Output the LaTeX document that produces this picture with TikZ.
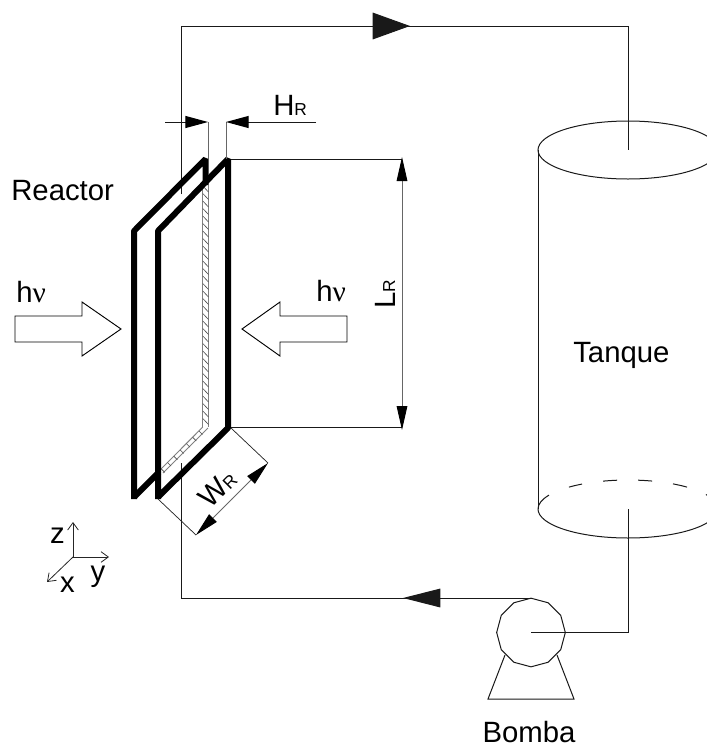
\documentclass[tikz,border=0pt]{standalone}
\usepackage{fontspec}
\setmainfont{Liberation Sans}
\newfontfamily\nufont{Liberation Serif}
\usetikzlibrary{arrows.meta,shapes.geometric}
\newcommand{\bigfs}{\fontsize{22}{24}\selectfont}
\newcommand{\smallfs}{\fontsize{13}{15}\selectfont}
\newcommand{\hnu}{h{\nufont ν}}
\tikzset{
  pipe/.style={line width=0.75pt,black!90},
  thinline/.style={line width=0.55pt,black!85},
  dimline/.style={line width=0.7pt,black!60},
  reactorframe/.style={line width=4.5pt,line join=bevel,line cap=butt},
  hatchedge/.style={line width=0.7pt,black!50},
  hatchtick/.style={line width=0.45pt,black!70},
  lab/.style={font=\bigfs,inner sep=0pt,text=black},
  bigtip/.style={-{Triangle[length=28pt,width=20pt]},pipe},
  midtip/.style={-{Triangle[length=28pt,width=14pt]},pipe},
  dimtip/.style={-{Triangle[length=18pt,width=8pt,color=black]},dimline},
  hrtip/.style={-{Triangle[length=17pt,width=9pt,color=black]},pipe},
  axisline/.style={-{Straight Barb[length=5.5pt,width=8pt]},line width=0.6pt,black!85},
  lightarrow/.style={line width=0.7pt,fill=white,line join=miter}
}
\begin{document}
\begin{tikzpicture}[x=0.75pt,y=-0.75pt]
\useasboundingbox (0,0) rectangle (707,747);
\clip (0,0) rectangle (707,747);
% coordinates
\coordinate (pipeTopStart) at (181,194);
\coordinate (pipeTopCorner) at (181,26);
\coordinate (pipeTopEnd) at (628,26);
\coordinate (tankIn) at (628,150);
\coordinate (arrowTopBase) at (371,26);
\coordinate (arrowTopTip) at (410,26);
\coordinate (tankOut) at (628,509);
\coordinate (pumpIn) at (531,632.5);
\coordinate (pumpCorner) at (628,632.5);
\coordinate (pumpTop) at (531,598);
\coordinate (pipeLowCorner) at (181,598);
\coordinate (pipeLowEnd) at (181,463);
\coordinate (arrowLowBase) at (441,598);
\coordinate (arrowLowTip) at (403,598);
% tank
\node[ellipse,draw,pipe,minimum width=135pt,minimum height=43.5pt,inner sep=0pt] (tankTop) at (628,150) {};
\draw[pipe] (538,150) -- (538,509);
\draw[pipe] (538,509) arc[start angle=180,end angle=0,x radius=90,y radius=29];
\foreach \ta/\tb in {0/28.6,49/59.3,73.9/83,96.4/105.5,120/131,150/160}{
  \draw[pipe] (628,509) ++({180+\ta}:90 and 29) arc[start angle={180+\ta},end angle={180+\tb},x radius=90,y radius=29];
}
% pipes
\draw[pipe] (pipeTopStart) -- (pipeTopCorner) -- (pipeTopEnd) -- (tankIn);
\draw[bigtip] (arrowTopBase) -- (arrowTopTip);
\draw[pipe] (tankOut) -- (pumpCorner) -- (pumpIn);
\draw[pipe] (pumpTop) -- (pipeLowCorner) -- (pipeLowEnd);
\draw[midtip] (arrowLowBase) -- (arrowLowTip);
% pump
\draw[pipe] (505,655) -- (488,699) -- (574,699) -- (557,655);
\node[regular polygon,regular polygon sides=12,shape border rotate=15,draw,pipe,minimum size=51.5pt,inner sep=0pt] (pump) at (531,632.5) {};
\draw[pipe] (pumpIn) -- (pumpCorner);
% reactor: back plate, hatched edges, front plate
\draw[reactorframe] (134,499) -- (134,231) -- (205.5,159) -- (205.5,185);
\draw[reactorframe] (134,497) -- (159,472);
\draw[hatchedge] (202.8,185) -- (202.8,427) (208.5,185) -- (208.5,427);
\foreach \y in {186,193.5,...,420}{
  \draw[hatchtick] (202.8,\y) -- (208.5,{\y+6});
}
\draw[hatchedge] (202.8,427) -- (160,470) (208,428) -- (163,473);
\foreach \k in {0,1,...,6}{
  \draw[hatchtick] ({199-6.3*\k},{431+6.3*\k}) -- ({202.5-6.3*\k},{434.5+6.3*\k});
}
\draw[reactorframe] (158,499) -- (158,231) -- (228,159) -- (228,428) -- (158,497);
% dimension HR
\coordinate (hrA) at (208,122);
\coordinate (hrB) at (226,122);
\coordinate (hrLeft) at (165,122);
\coordinate (hrRight) at (316,122);
\draw[dimline] (208,159) -- (hrA);
\draw[dimline] (226,159) -- (hrB);
\draw[hrtip] (hrLeft) -- (hrA);
\draw[hrtip] (hrRight) -- (hrB);
\node[lab,anchor=base west] (hrLabel) at (273,115) {H{\smallfs R}};
% dimension LR
\coordinate (lrA) at (402,157);
\coordinate (lrB) at (402,430);
\draw[pipe] (231,159) -- (402,159);
\draw[pipe] (231,427) -- (402,427);
\draw[dimtip] (402,292) -- (lrA);
\draw[dimtip] (402,292) -- (lrB);
\node[lab,rotate=90,anchor=base west] (lrLabel) at (395,309) {L{\smallfs R}};
% dimension WR
\coordinate (wrA) at (268,463);
\coordinate (wrB) at (196,535);
\draw[thinline] (231,428) -- (wrA);
\draw[thinline] (158,499) -- (wrB);
\draw[dimtip] (232,499) -- (wrA);
\draw[dimtip] (232,499) -- (wrB);
\node[lab,rotate=45,anchor=base west] (wrLabel) at (210,510) {W{\smallfs R}};
% light arrows
\draw[lightarrow] (15,316) -- (82,316) -- (82,302) -- (121,329) -- (82,356) -- (82,342) -- (15,342) -- cycle;
\draw[lightarrow] (347,316) -- (280,316) -- (280,302) -- (242,329) -- (280,356) -- (280,342) -- (347,342) -- cycle;
\node[lab,anchor=base west] (hvLeft) at (16,302) {\hnu};
\node[lab,anchor=base west] (hvRight) at (316,301) {\hnu};
% axes
\coordinate (origin) at (73,557);
\draw[axisline] (origin) -- (73,522);
\draw[axisline] (origin) -- (109,557);
\draw[axisline] (origin) -- (47,582);
\node[lab,anchor=base] (axisZ) at (57.5,543) {z};
\node[lab,anchor=base] (axisY) at (98,581) {y};
\node[lab,anchor=base] (axisX) at (67.5,592) {x};
% labels
\node[lab,anchor=base west] (reactorLabel) at (11,200) {Reactor};
\node[lab,anchor=base west] (tankLabel) at (573,362) {Tanque};
\node[lab,anchor=base] (pumpLabel) at (529,742) {Bomba};
\end{tikzpicture}
\end{document}
